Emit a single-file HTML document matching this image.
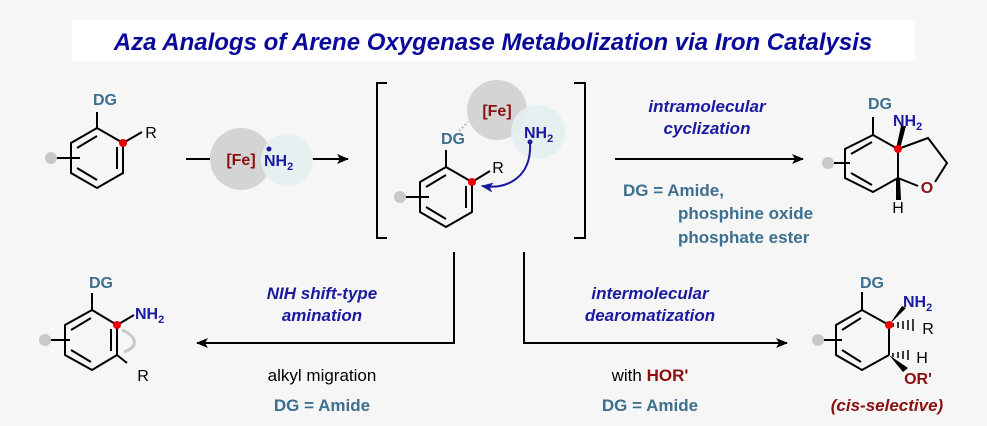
<!DOCTYPE html>
<html><head><meta charset="utf-8"><style>
html,body{margin:0;padding:0;background:#f6f6f6}
svg{display:block}
text{font-family:"Liberation Sans",Arial,sans-serif}
</style></head><body>
<svg width="987" height="426" viewBox="0 0 987 426" xmlns="http://www.w3.org/2000/svg">
<defs>
<marker id="ah" markerWidth="12" markerHeight="10" refX="11" refY="5" orient="auto" markerUnits="userSpaceOnUse"><path d="M0,0 L12,5 L0,10 L3,5 Z" fill="#000"/></marker>
<marker id="bh" markerWidth="12" markerHeight="10" refX="11" refY="5" orient="auto" markerUnits="userSpaceOnUse"><path d="M0,0 L12,5 L0,10 L3,5 Z" fill="#1a1aa0"/></marker>
</defs>
<rect width="987" height="426" fill="#f6f6f6"/>
<rect x="72" y="20" width="843" height="41" fill="#fff"/>
<text x="493" y="50" text-anchor="middle" font-size="24" font-weight="bold" font-style="italic" fill="#0a0a9a">Aza Analogs of Arene Oxygenase Metabolization via Iron Catalysis</text>

<g stroke="#000" stroke-width="2" fill="none">
<!-- SM ring center 97,158 -->
<polygon points="97,128 123,143 123,173 97,188 71,173 71,143"/>
<line x1="77" y1="148" x2="97" y2="136"/><line x1="117" y1="147" x2="117" y2="169"/><line x1="77" y1="168" x2="97" y2="180"/>
<line x1="97" y1="128" x2="97" y2="112"/><line x1="123" y1="143" x2="142" y2="132"/>
<line x1="54" y1="158" x2="80" y2="158"/>
<!-- arrow 1 -->
<line x1="186" y1="159" x2="212" y2="159"/>
<line x1="312" y1="159" x2="348" y2="159" marker-end="url(#ah)"/>
<!-- brackets -->
<polyline points="387,83 377,83 377,238 387,238"/>
<polyline points="574,83 585,83 585,238 574,238"/>
<!-- intermediate ring center 446,197 -->
<polygon points="446,167 472,182 472,212 446,227 420,212 420,182"/>
<line x1="426" y1="187" x2="446" y2="175"/><line x1="466" y1="186" x2="466" y2="208"/><line x1="426" y1="207" x2="446" y2="219"/>
<line x1="446" y1="167" x2="446" y2="150"/><line x1="472" y1="182" x2="490" y2="171"/>
<line x1="403" y1="197" x2="429" y2="197"/>
<!-- top right arrow -->
<line x1="615" y1="159" x2="803" y2="159" marker-end="url(#ah)"/>
<!-- product 1 ring -->
<polygon points="873,135 898,149 898,178 873,192 845,178 845,149"/>
<line x1="851" y1="154" x2="872" y2="142"/><line x1="851" y1="173" x2="872" y2="185"/>
<line x1="873" y1="135" x2="873" y2="117"/>
<polyline points="898,149 928,138 947,163 935,182"/>
<line x1="918" y1="186" x2="898" y2="178"/>
<line x1="828" y1="163" x2="850" y2="163"/>
<!-- bottom connectors -->
<polyline points="454,252 454,343 197,343" marker-end="url(#ah)"/>
<polyline points="524,252 524,343 787,343" marker-end="url(#ah)"/>
<!-- left product ring -->
<polygon points="92,310 117,325 117,355 92,370 65,355 65,325"/>
<line x1="71" y1="330" x2="91" y2="318"/><line x1="111" y1="329" x2="111" y2="351"/><line x1="71" y1="350" x2="91" y2="362"/>
<line x1="92" y1="310" x2="92" y2="293"/><line x1="117" y1="325" x2="134" y2="315"/><line x1="117" y1="355" x2="127" y2="363"/>
<line x1="47" y1="340" x2="70" y2="340"/>
<!-- right product ring -->
<polyline points="889,325 862,310 836,325 836,355 862,370 889,355"/>
<line x1="842" y1="330" x2="861" y2="318"/><line x1="842" y1="350" x2="861" y2="362"/>
<line x1="862" y1="310" x2="862" y2="292"/>
<line x1="889" y1="325" x2="889" y2="355"/>
<line x1="820" y1="340" x2="842" y2="340"/>
</g>
<!-- wedges -->
<polygon points="896,149 900,149 906,126 901,126" fill="#000"/>
<polygon points="896,178 900,178 901,200 896,200" fill="#000"/>
<polygon points="889,325 906,308 902,306" fill="#000"/>
<polygon points="889,355 903,372 908,368" fill="#000"/>
<g stroke="#000" stroke-width="1.5">
<line x1="893" y1="323" x2="893" y2="327"/><line x1="898" y1="322" x2="898" y2="328"/><line x1="903" y1="321" x2="903" y2="329"/><line x1="908" y1="320" x2="908" y2="330"/><line x1="913" y1="319" x2="913" y2="331"/>
<line x1="893" y1="353" x2="893" y2="357"/><line x1="898" y1="352" x2="898" y2="358"/><line x1="903" y1="351" x2="903" y2="359"/><line x1="908" y1="350" x2="908" y2="360"/>
</g>
<!-- gray dots -->
<g fill="#c8c8c8"><circle cx="51" cy="158" r="6"/><circle cx="400" cy="197" r="6"/><circle cx="828" cy="163" r="6"/><circle cx="45" cy="340" r="6"/><circle cx="818" cy="340" r="6"/></g>
<!-- reagent circles -->
<circle cx="241" cy="159" r="31" fill="#d4d4d4"/>
<circle cx="287" cy="160" r="26" fill="#e6efef" opacity="0.9"/>
<circle cx="497" cy="110" r="30" fill="#d4d4d4"/>
<circle cx="538" cy="132" r="27" fill="#e6efef" opacity="0.9"/>
<line x1="459" y1="131" x2="468" y2="122" stroke="#bbb" stroke-width="2" stroke-dasharray="2,2"/>
<!-- curved arrow -->
<path d="M530,142 C532,175 510,190 482,186" stroke="#1a1aa0" stroke-width="2" fill="none" marker-end="url(#bh)"/>
<circle cx="530" cy="142" r="2.5" fill="#1a1aa0"/>
<!-- gray migration arrow -->
<path d="M122,330 C136,336 140,346 124,352" stroke="#c8c8c8" stroke-width="3" fill="none"/>
<!-- red dots -->
<g fill="#e00"><circle cx="123" cy="143" r="4"/><circle cx="472" cy="182" r="4"/><circle cx="898" cy="149" r="4"/><circle cx="117" cy="325" r="4"/><circle cx="889" cy="325" r="4"/></g>

<g font-size="16" font-weight="bold">
<text x="105" y="105" text-anchor="middle" fill="#3d6f8e">DG</text>
<text x="453" y="144" text-anchor="middle" fill="#3d6f8e">DG</text>
<text x="880" y="109" text-anchor="middle" fill="#3d6f8e">DG</text>
<text x="101" y="288" text-anchor="middle" fill="#3d6f8e">DG</text>
<text x="872" y="288" text-anchor="middle" fill="#3d6f8e">DG</text>
<text x="241" y="165" text-anchor="middle" fill="#8a1010">[Fe]</text>
<text x="497" y="116" text-anchor="middle" fill="#8a1010">[Fe]</text>
<text x="264" y="166" fill="#1a1aa0">NH<tspan font-size="11" dy="4">2</tspan></text>
<circle cx="269" cy="149" r="2.5" fill="#1a1aa0"/>
<text x="524" y="138" fill="#1a1aa0">NH<tspan font-size="11" dy="4">2</tspan></text>
<text x="893" y="126" fill="#1a1aa0">NH<tspan font-size="11" dy="4">2</tspan></text>
<text x="135" y="319" fill="#1a1aa0">NH<tspan font-size="11" dy="4">2</tspan></text>
<text x="903" y="307" fill="#1a1aa0">NH<tspan font-size="11" dy="4">2</tspan></text>
<text x="927" y="193" text-anchor="middle" fill="#8a1010">O</text>
<text x="918" y="384" text-anchor="middle" fill="#8a1010">OR'</text>
</g>
<g font-size="16" fill="#000">
<text x="151" y="138" text-anchor="middle">R</text>
<text x="498" y="173" text-anchor="middle">R</text>
<text x="143" y="381" text-anchor="middle">R</text>
<text x="928" y="334" text-anchor="middle">R</text>
<text x="922" y="363" text-anchor="middle">H</text>
<text x="898" y="213" text-anchor="middle">H</text>
</g>
<g font-size="17" font-weight="bold" font-style="italic" fill="#1a1aa0" text-anchor="middle">
<text x="707" y="112">intramolecular</text>
<text x="707" y="134">cyclization</text>
<text x="322" y="299">NIH shift-type</text>
<text x="322" y="321">amination</text>
<text x="650" y="299">intermolecular</text>
<text x="650" y="321">dearomatization</text>
</g>
<g font-size="17" font-weight="bold" fill="#3d6f8e">
<text x="623" y="196">DG = Amide,</text>
<text x="678" y="219">phosphine oxide</text>
<text x="678" y="243">phosphate ester</text>
<text x="322" y="411" text-anchor="middle">DG = Amide</text>
<text x="650" y="411" text-anchor="middle">DG = Amide</text>
</g>
<text x="322" y="381" text-anchor="middle" font-size="17" fill="#000">alkyl migration</text>
<text x="650" y="381" text-anchor="middle" font-size="17" fill="#000">with <tspan font-weight="bold" fill="#8a1010">HOR'</tspan></text>
<text x="887" y="411" text-anchor="middle" font-size="17" font-weight="bold" font-style="italic" fill="#8a1010">(cis-selective)</text>
</svg>
</body></html>
